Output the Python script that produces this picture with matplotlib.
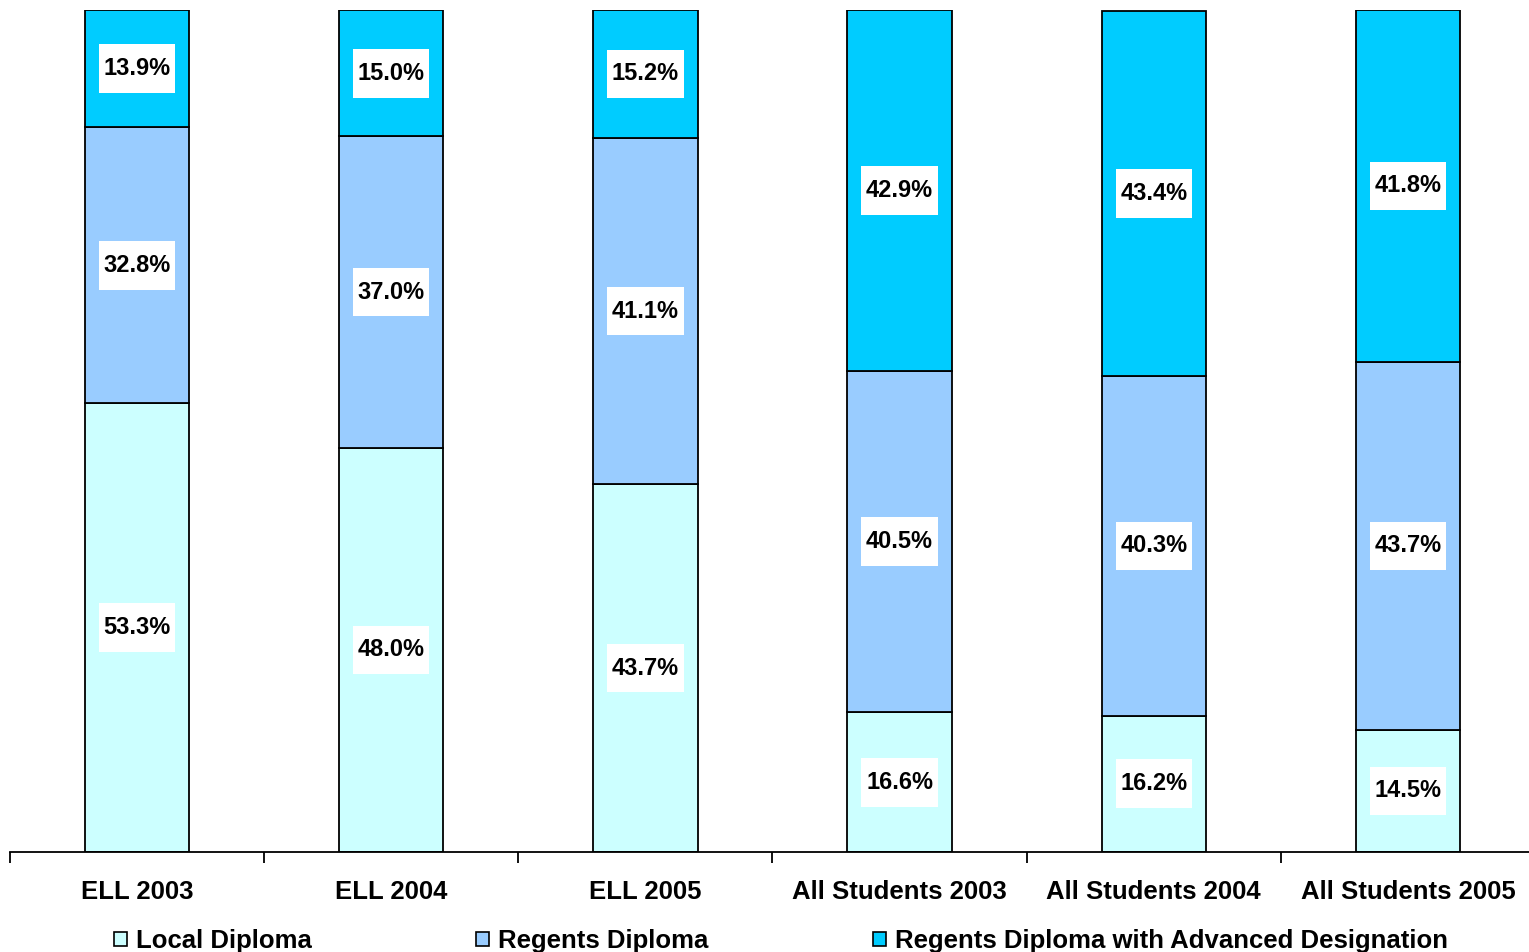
import matplotlib
matplotlib.use("Agg")
from matplotlib import pyplot as plt
from matplotlib.patches import Patch, Rectangle
import numpy as np

plt.rcParams["font.family"] = ["Liberation Sans", "DejaVu Sans"]
plt.rcParams["font.weight"] = "bold"

categories = ["ELL 2003", "ELL 2004", "ELL 2005",
              "All Students 2003", "All Students 2004", "All Students 2005"]
local = [53.3, 48.0, 43.7, 16.6, 16.2, 14.5]
regents = [32.8, 37.0, 41.1, 40.5, 40.3, 43.7]
advanced = [13.9, 15.0, 15.2, 42.9, 43.4, 41.8]
series_names = ["Local Diploma", "Regents Diploma",
                "Regents Diploma with Advanced Designation"]
colors = ["#CCFFFF", "#99CCFF", "#00CCFF"]

W, H = 1529, 952
fig = plt.figure(figsize=(W / 100, H / 100), dpi=100)
ax = fig.add_axes([10 / W, 100 / H, 1525 / W, 842 / H])

# white label boxes (sizes in data units)
box_w, box_h = 0.30, 5.8

x = np.arange(len(categories))
bottom = np.zeros(len(categories))
for vals, col in zip([local, regents, advanced], colors):
    vals = np.array(vals)
    ax.bar(x, vals, width=0.41, bottom=bottom, color=col,
           edgecolor="black", linewidth=1.3, zorder=2)
    for xi, b, v in zip(x, bottom, vals):
        mid = b + v / 2
        ax.add_patch(Rectangle((xi - box_w / 2, mid - box_h / 2), box_w, box_h,
                               facecolor="white", edgecolor="none", zorder=3))
        ax.text(xi, mid, f"{v:.1f}%", ha="center", va="center",
                fontsize=17, fontweight="bold", zorder=4)
    bottom += vals

ax.set_xlim(-0.5, len(categories) - 0.5)
ax.set_ylim(0, 100)
for s in ["left", "right", "top"]:
    ax.spines[s].set_visible(False)
ax.spines["bottom"].set_linewidth(1.3)
ax.set_yticks([])
ax.set_xticks(x)
ax.set_xticklabels(categories, fontsize=18.5, fontweight="bold")
ax.tick_params(axis="x", which="major", length=0, pad=20)
ax.set_xticks(np.arange(-0.5, len(categories)), minor=True)
ax.tick_params(axis="x", which="minor", length=8, width=1.3, direction="out")

handles = [Patch(facecolor=c, edgecolor="black", linewidth=1.2) for c in colors]
fig.legend(handles, series_names, loc="center", ncol=3,
           bbox_to_anchor=(781 / W, 11 / H), frameon=False,
           prop={"size": 18.5, "weight": "bold"},
           handlelength=0.5, handleheight=0.5, handletextpad=0.35,
           columnspacing=6.4, borderaxespad=0, borderpad=0)

fig.savefig("out.png", dpi=100)
